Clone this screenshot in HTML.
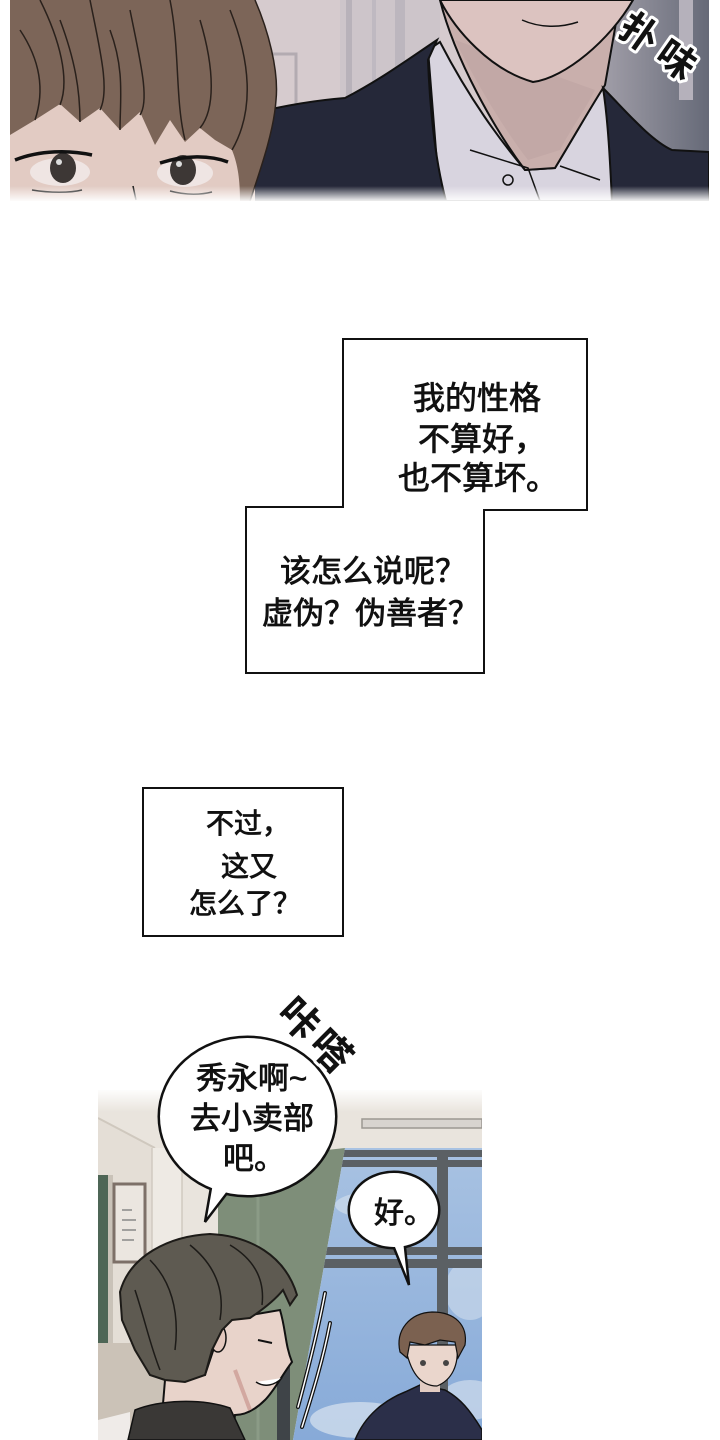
<!DOCTYPE html>
<html><head><meta charset="utf-8">
<style>
html,body{margin:0;padding:0;background:#fff;}
svg{display:block;}
.t{font-family:"Liberation Sans","Noto Sans CJK SC",sans-serif;fill:#111;}
.b{stroke:#111;stroke-width:0.8;}
</style></head>
<body>
<svg width="720" height="1440" viewBox="0 0 720 1440" xmlns="http://www.w3.org/2000/svg">
<defs>
<clipPath id="c1"><rect x="10" y="0" width="699" height="201"/></clipPath>
<clipPath id="c2"><rect x="98" y="1090" width="384" height="350"/></clipPath>
<clipPath id="win"><polygon points="345,1148 482,1148 482,1440 293,1440"/></clipPath>
<linearGradient id="fadeB" x1="0" y1="0" x2="0" y2="1"><stop offset="0" stop-color="#fff" stop-opacity="0"/><stop offset="1" stop-color="#fff" stop-opacity="1"/></linearGradient>
<linearGradient id="fadeT" x1="0" y1="0" x2="0" y2="1"><stop offset="0" stop-color="#fff" stop-opacity="1"/><stop offset="1" stop-color="#fff" stop-opacity="0"/></linearGradient>
<linearGradient id="sky" x1="0" y1="0" x2="0" y2="1"><stop offset="0" stop-color="#a8c2e2"/><stop offset="1" stop-color="#87aad8"/></linearGradient>
<linearGradient id="rbg" x1="0" y1="0" x2="1" y2="0"><stop offset="0" stop-color="#a29fa9"/><stop offset="1" stop-color="#666a78"/></linearGradient>
</defs>

<!-- ===== TOP PANEL ===== -->
<g clip-path="url(#c1)">
<rect x="10" y="0" width="699" height="201" fill="#d6cbce"/>
<rect x="340" y="0" width="100" height="110" fill="#cdc5ca"/>
<rect x="346" y="0" width="6" height="110" fill="#b8b2ba"/>
<rect x="372" y="0" width="4" height="110" fill="#bfb9c1"/>
<rect x="395" y="0" width="10" height="110" fill="#bcb6be"/>
<rect x="266" y="54" width="30" height="56" fill="none" stroke="#b3abb1" stroke-width="3"/>
<rect x="600" y="0" width="109" height="201" fill="url(#rbg)"/>
<rect x="679" y="0" width="14" height="100" fill="#b5b1bb"/>

<path d="M428,50 L440,42 C470,100 500,140 525,170 L555,168 C575,135 592,105 603,88 L610,100 L612,201 L440,201 Z" fill="#d8d4df" stroke="#111" stroke-width="2"/>
<path d="M440,0 C455,60 495,130 525,170 L555,168 C575,135 592,105 605,85 L620,0 Z" fill="#c9afac" stroke="#111" stroke-width="2"/>
<path d="M455,40 C480,90 505,130 528,160 L560,150 C570,130 585,110 595,90 Z" fill="#bea3a1" opacity="0.6"/>
<path d="M440,0 C455,30 490,70 533,82 C565,78 610,40 633,0 Z" fill="#dcc3c0" stroke="#111" stroke-width="2"/>
<path d="M522,20 C540,28 560,28 578,22" fill="none" stroke="#111" stroke-width="1.5"/>
<path d="M470,150 L528,168 L540,201" fill="none" stroke="#111" stroke-width="1.5"/>
<path d="M560,166 L600,180" fill="none" stroke="#111" stroke-width="1.5"/>
<circle cx="508" cy="180" r="5" fill="none" stroke="#111" stroke-width="1.5"/>
<path d="M245,201 L250,114 C290,104 320,100 345,98 C380,80 410,58 437,40 L428,60 C430,110 435,160 446,201 Z" fill="#252839" stroke="#111" stroke-width="2"/>
<path d="M603,88 C625,110 650,140 672,150 L709,152 L709,201 L612,201 C610,160 608,120 603,88 Z" fill="#252839" stroke="#111" stroke-width="2"/>

<rect x="10" y="90" width="245" height="111" fill="#e2cbc3"/>
<ellipse cx="60" cy="172" rx="30" ry="14" fill="#efe5e3"/>
<ellipse cx="63" cy="168" rx="13" ry="15" fill="#3d3735"/>
<circle cx="59" cy="162" r="3" fill="#ddd"/>
<path d="M15,160 C40,150 70,150 92,155" fill="none" stroke="#111" stroke-width="3.5"/>
<path d="M32,190 C50,193 70,193 82,190" fill="none" stroke="#111" stroke-width="1.5"/>
<ellipse cx="185" cy="173" rx="28" ry="14" fill="#efe5e3"/>
<ellipse cx="183" cy="170" rx="13" ry="15" fill="#3d3735"/>
<circle cx="179" cy="164" r="3" fill="#ddd"/>
<path d="M160,163 C185,155 210,155 228,162" fill="none" stroke="#111" stroke-width="3.5"/>
<path d="M170,191 C185,195 200,195 212,192" fill="none" stroke="#111" stroke-width="1.5"/>
<path d="M133,186 L136,200" stroke="#111" stroke-width="1.5"/>
<path d="M10,0 L255,0 C268,30 279,70 276,100 C274,130 262,165 250,201 L240,201 C240,180 238,165 232,150 L215,140 L200,128 L185,142 L170,120 L155,145 L140,112 L120,130 L100,108 L80,122 L60,104 L35,120 L10,135 Z" fill="#7c6558"/>
<g fill="none" stroke="#2a211c" stroke-width="1.5">
<path d="M40,0 C60,40 70,80 60,105"/>
<path d="M90,0 C100,50 110,90 100,110"/>
<path d="M130,10 C140,60 150,100 140,115"/>
<path d="M170,0 C180,50 175,100 185,140"/>
<path d="M200,20 C215,70 215,110 200,128"/>
<path d="M230,10 C250,60 255,110 232,150"/>
<path d="M20,30 C40,60 45,90 35,120"/>
<path d="M255,0 C268,30 279,70 276,100 C274,130 262,165 250,201"/>
<path d="M110,30 C125,70 120,100 120,130"/>
<path d="M60,20 C75,60 80,90 80,122"/>
</g>
<rect x="10" y="186" width="699" height="16" fill="url(#fadeB)"/>
</g>
<g class="t" font-size="38" font-weight="bold" stroke="#fff" stroke-width="6" paint-order="stroke" stroke-linejoin="round" text-anchor="middle">
<text transform="translate(640,32) rotate(35)" dy="0.38em">扑</text>
<text transform="translate(677,59) rotate(35)" dy="0.38em">味</text>
</g>

<!-- ===== TEXT BOXES ===== -->
<polygon points="343,339 587,339 587,510 484,510 484,673 246,673 246,507 343,507" fill="#fff" stroke="#111" stroke-width="2"/>
<g class="t b" font-size="32">
<text x="413" y="409">我的性格</text>
<text x="418" y="450">不算好，</text>
<text x="398" y="489">也不算坏。</text>
</g>
<g class="t b" font-size="31">
<text x="280" y="582">该怎么说呢？</text>
<text x="262" y="624">虚伪？伪善者？</text>
</g>

<rect x="143" y="788" width="200" height="148" fill="#fff" stroke="#111" stroke-width="2"/>
<g class="t b" font-size="28">
<text x="206" y="833">不过，</text>
<text x="221" y="876">这又</text>
<text x="189" y="913">怎么了？</text>
</g>

<!-- ===== BOTTOM PANEL ===== -->
<g clip-path="url(#c2)">
<rect x="98" y="1090" width="384" height="350" fill="#e9e4dd"/>
<path d="M98,1118 L155,1148 L155,1440 L98,1440 Z" fill="#e4ded6"/>
<path d="M98,1118 L155,1148" stroke="#cfc8be" stroke-width="2"/>
<rect x="152" y="1148" width="30" height="292" fill="#eeeae4"/>
<line x1="152" y1="1148" x2="152" y2="1440" stroke="#d0c9c0" stroke-width="1.5"/>
<line x1="182" y1="1148" x2="182" y2="1440" stroke="#d0c9c0" stroke-width="1.5"/>
<rect x="362" y="1119" width="120" height="9" fill="#d8d4cf" stroke="#9c9892" stroke-width="1.5"/>
<rect x="98" y="1175" width="10" height="170" fill="#4e6656"/>
<rect x="108" y="1175" width="5" height="170" fill="#c9c2b8"/>
<rect x="114" y="1184" width="31" height="78" fill="#ebe6e0" stroke="#7d7068" stroke-width="3"/>
<g stroke="#888" stroke-width="1.5"><line x1="122" y1="1210" x2="132" y2="1210"/><line x1="122" y1="1220" x2="136" y2="1220"/><line x1="122" y1="1230" x2="136" y2="1230"/><line x1="122" y1="1240" x2="134" y2="1240"/></g>
<rect x="98" y="1343" width="140" height="97" fill="#cbc2b7"/>
<polygon points="218,1162 345,1148 293,1440 218,1440" fill="#7e8e79"/>
<line x1="258" y1="1165" x2="258" y2="1440" stroke="#8b9b86" stroke-width="3"/>
<g clip-path="url(#win)">
<rect x="290" y="1148" width="192" height="292" fill="url(#sky)"/>
<ellipse cx="380" cy="1205" rx="45" ry="14" fill="#c9d8ea" opacity="0.8"/>
<ellipse cx="470" cy="1290" rx="25" ry="30" fill="#c2d3e8" opacity="0.8"/>
<ellipse cx="360" cy="1420" rx="50" ry="18" fill="#c8d7ea" opacity="0.9"/>
<ellipse cx="470" cy="1400" rx="30" ry="20" fill="#c8d7ea" opacity="0.8"/>
<rect x="290" y="1150" width="192" height="7" fill="#5b6064"/>
<rect x="290" y="1160" width="192" height="7" fill="#5b6064"/>
<rect x="437" y="1150" width="11" height="290" fill="#5b6064"/>
<rect x="290" y="1247" width="192" height="8" fill="#5b6064"/>
<rect x="290" y="1259" width="192" height="9" fill="#5b6064"/>
</g>
<rect x="277" y="1360" width="13" height="80" fill="#3f4448"/>
<path d="M222,1320 L280,1310 C286,1330 285,1345 292,1362 C282,1375 275,1390 265,1400 C255,1410 245,1415 235,1415 L232,1440 L160,1440 L165,1380 L205,1375 L215,1345 Z" fill="#e8d3ca" stroke="#111" stroke-width="2"/>
<path d="M235,1370 L250,1410" stroke="#d2a8a0" stroke-width="4"/>
<path d="M258,1340 L272,1343" stroke="#111" stroke-width="2"/>
<path d="M256,1382 C265,1388 275,1385 282,1378" fill="#fff" stroke="#111" stroke-width="1.5"/>
<ellipse cx="218" cy="1338" rx="8" ry="14" fill="#e3c8be" stroke="#111" stroke-width="1.5"/>
<path d="M120,1292 C130,1255 170,1236 210,1234 C250,1236 285,1255 297,1295 L290,1305 L283,1290 C275,1300 262,1310 250,1318 L232,1320 L222,1330 L212,1350 L205,1375 L185,1382 L165,1380 L150,1375 L135,1350 L122,1320 Z" fill="#5e5a51" stroke="#1d1b18" stroke-width="2"/>
<g fill="none" stroke="#1d1b18" stroke-width="1.5">
<path d="M150,1260 C170,1280 180,1310 175,1350"/>
<path d="M190,1245 C215,1265 225,1290 220,1320"/>
<path d="M230,1245 C255,1260 265,1280 262,1305"/>
<path d="M135,1290 C145,1320 150,1345 160,1370"/>
</g>
<path d="M98,1420 L130,1412 L130,1440 L98,1440 Z" fill="#efebe8"/>
<path d="M128,1440 L135,1410 C160,1400 200,1398 230,1408 L245,1440 Z" fill="#3a3836" stroke="#111" stroke-width="1.5"/>
<path d="M355,1440 C365,1415 385,1400 405,1392 L420,1385 L445,1390 C460,1398 470,1410 482,1430 L482,1440 Z" fill="#2b2f49" stroke="#111" stroke-width="1.5"/>
<rect x="420" y="1378" width="20" height="14" fill="#e2ccc2"/>
<path d="M405,1345 L457,1345 C459,1365 452,1380 437,1386 C420,1386 410,1372 405,1345 Z" fill="#ead6cc" stroke="#111" stroke-width="1.2"/>
<circle cx="423" cy="1363" r="3" fill="#444"/>
<circle cx="446" cy="1363" r="3" fill="#444"/>
<path d="M400,1352 C395,1330 410,1313 432,1312 C455,1312 468,1325 465,1345 L458,1358 L455,1342 L440,1340 L425,1345 L410,1342 L407,1358 Z" fill="#7b6150" stroke="#111" stroke-width="1.2"/>
<g fill="none" stroke-linecap="round">
<path d="M325,1293 C318,1330 308,1370 298,1407" stroke="#111" stroke-width="4"/>
<path d="M325,1293 C318,1330 308,1370 298,1407" stroke="#fff" stroke-width="1.5"/>
<path d="M330,1323 C323,1360 312,1395 302,1427" stroke="#111" stroke-width="4"/>
<path d="M330,1323 C323,1360 312,1395 302,1427" stroke="#fff" stroke-width="1.5"/>
</g>
<rect x="98" y="1088" width="384" height="24" fill="url(#fadeT)"/>
</g>

<ellipse cx="247.5" cy="1116.5" rx="87.5" ry="78.5" fill="#fff" stroke="#111" stroke-width="5"/>
<path d="M213,1176 L205,1222 L234,1184" fill="#fff" stroke="#111" stroke-width="2.5" stroke-linejoin="miter"/>
<ellipse cx="247.5" cy="1116.5" rx="87.5" ry="78.5" fill="#fff"/>
<g class="t b" font-size="31">
<text x="196" y="1089">秀永啊~</text>
<text x="190" y="1129">去小卖部</text>
<text x="223" y="1169">吧。</text>
</g>
<ellipse cx="394" cy="1210" rx="44" ry="37" fill="#fff" stroke="#111" stroke-width="5"/>
<path d="M390,1238 L409,1285 L404,1238" fill="#fff" stroke="#111" stroke-width="2.5"/>
<ellipse cx="394" cy="1210" rx="44" ry="37" fill="#fff"/>
<text class="t b" x="374" y="1223" font-size="30">好。</text>

<g class="t" font-size="40" font-weight="bold" stroke="#fff" stroke-width="6" paint-order="stroke" stroke-linejoin="round" text-anchor="middle">
<text transform="translate(300,1018) rotate(45)" dy="0.38em">咔</text>
<text transform="translate(332,1050) rotate(45)" dy="0.38em">嗒</text>
</g>
</svg>
</body></html>
